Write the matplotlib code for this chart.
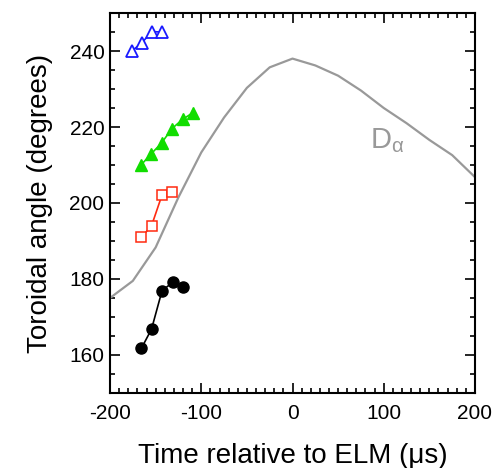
import matplotlib
matplotlib.use('Agg')
import matplotlib.pyplot as plt
from matplotlib.ticker import MultipleLocator

plt.rcParams['font.family'] = ['Liberation Sans', 'DejaVu Sans']
plt.rcParams['axes.unicode_minus'] = False
plt.rcParams['mathtext.fontset'] = 'custom'
plt.rcParams['mathtext.rm'] = 'Liberation Sans'
plt.rcParams['mathtext.it'] = 'Liberation Sans'

# D-alpha trace (gray)
da_t = [-200, -175, -150, -125, -100, -75, -50, -25, 0, 25, 50, 75, 100, 125, 150, 175, 200]
da_y = [175, 179.5, 188.3, 201.5, 213.3, 222.5, 230.3, 235.7, 238, 236.2, 233.5, 229.6, 225, 221, 216.6, 212.6, 206.8]

# toroidal angle series
blue_t = [-176, -165, -154, -143]
blue_y = [240, 242.2, 245.1, 245]

green_t = [-166, -155, -143.5, -132, -120.5, -109]
green_y = [210, 212.9, 215.8, 219.6, 222, 223.8]

red_t = [-165.5, -154.5, -143, -132]
red_y = [191, 194, 202.1, 203]

black_t = [-165.5, -154.5, -143, -131.5, -120.5]
black_y = [161.8, 166.8, 176.9, 179.1, 178]

fig = plt.figure(figsize=(4.98, 4.68), dpi=100)
ax = fig.add_axes([0.2209, 0.1603, 0.7329, 0.8119])

ax.plot(da_t, da_y, color='#999999', lw=1.6)
ax.plot(blue_t, blue_y, color='#1a1aff', lw=1.2, marker='^', ms=9,
        mfc='white', mec='#1a1aff', mew=1.3)
ax.plot(green_t, green_y, color='#11dd00', lw=1.2, marker='^', ms=9,
        mfc='#11dd00', mec='#11dd00')
ax.plot(red_t, red_y, color='#ff2a10', lw=1.2, marker='s', ms=6.5,
        mfc='white', mec='#ff2a10', mew=1.1)
ax.plot(black_t, black_y, color='black', lw=1.2, marker='o', ms=8,
        mfc='black', mec='black')

ax.text(85, 214.5, r'D$_\alpha$', color='#999999', fontsize=21, va='baseline')

ax.set_xlim(-200, 200)
ax.set_ylim(150, 250)
ax.xaxis.set_major_locator(MultipleLocator(100))
ax.xaxis.set_minor_locator(MultipleLocator(10))
ax.yaxis.set_major_locator(MultipleLocator(20))
ax.yaxis.set_minor_locator(MultipleLocator(5))
ax.set_yticks([160, 180, 200, 220, 240])
ax.tick_params(which='both', direction='in', top=True, right=True, width=1.2)
ax.tick_params(which='major', length=7, labelsize=15)
ax.tick_params(which='minor', length=3.5)
ax.tick_params(axis='x', pad=8)
ax.tick_params(axis='y', pad=4)
for s in ax.spines.values():
    s.set_linewidth(1.5)

ax.set_xlabel('Time relative to ELM (\u03bcs)', fontsize=20, labelpad=14)
ax.set_ylabel('Toroidal angle (degrees)', fontsize=20, labelpad=12)

fig.savefig('out.png', dpi=100)
